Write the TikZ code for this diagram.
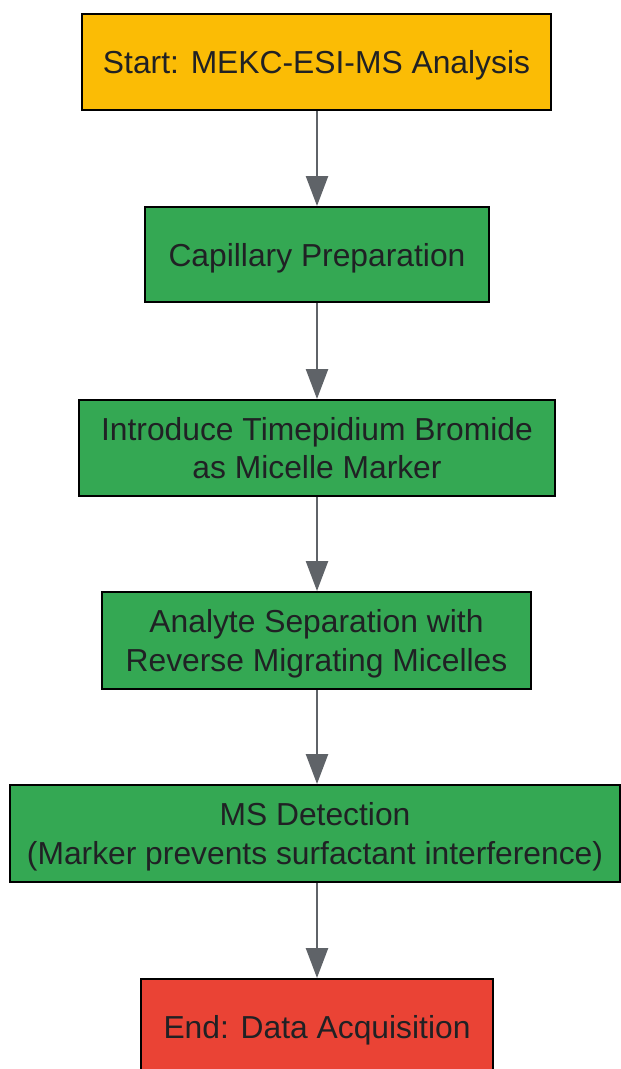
\documentclass[tikz,border=0pt]{standalone}
\usepackage{fontspec}
\setmainfont{Liberation Sans}
\usetikzlibrary{arrows.meta}
\definecolor{startc}{HTML}{FBBC05}
\definecolor{stepc}{HTML}{34A853}
\definecolor{endc}{HTML}{EA4335}
\definecolor{linec}{HTML}{5F6368}
\definecolor{txtc}{HTML}{202124}
\tikzset{
  box/.style={draw=black, line width=2pt, rectangle, align=center, text=txtc,
    font=\fontsize{31.8}{38.2}\selectfont, inner sep=0pt, text depth=0pt},
  conn/.style={draw=linec, line width=2.5pt, -{Triangle[length=30pt,width=22pt]}}
}
\begin{document}
\begin{tikzpicture}[x=1pt,y=-1pt]
\useasboundingbox (0,0) rectangle (621,1069);
\clip (0,0) rectangle (621,1069);
\node[box, fill=startc, minimum width=469pt, minimum height=96pt] (start) at (316.5,62) {Start: MEKC-ESI-MS Analysis};
\node[box, fill=stepc, minimum width=344pt, minimum height=95pt] (cap) at (317,254.5) {Capillary Preparation};
\node[box, fill=stepc, minimum width=476pt, minimum height=96pt] (intro) at (317,448) {Introduce Timepidium Bromide\\as Micelle Marker};
\node[box, fill=stepc, minimum width=429pt, minimum height=97pt] (sep) at (316.5,640.5) {Analyte Separation with\\Reverse Migrating Micelles};
\node[box, fill=stepc, minimum width=610pt, minimum height=97pt] (ms) at (315,833.5) {MS Detection\\(Marker prevents surfactant interference)};
\node[box, fill=endc, minimum width=352pt, minimum height=96pt] (end) at (317,1027) {End: Data Acquisition};
\coordinate (s1) at (317,110); \coordinate (e1) at (317,207);
\coordinate (s2) at (317,302); \coordinate (e2) at (317,399);
\coordinate (s3) at (317,495); \coordinate (e3) at (317,592);
\coordinate (s4) at (317,689); \coordinate (e4) at (317,785);
\coordinate (s5) at (317,882); \coordinate (e5) at (317,979);
\draw[conn] (start.south -| s1) -- (cap.north -| e1);
\draw[conn] (cap.south -| s2) -- (intro.north -| e2);
\draw[conn] (intro.south -| s3) -- (sep.north -| e3);
\draw[conn] (sep.south -| s4) -- (ms.north -| e4);
\draw[conn] (ms.south -| s5) -- (end.north -| e5);
\end{tikzpicture}
\end{document}
